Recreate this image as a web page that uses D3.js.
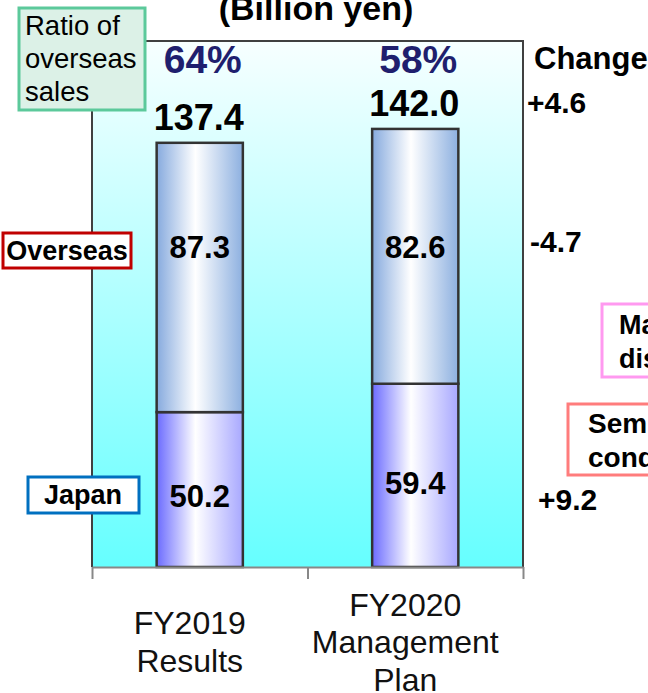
<!DOCTYPE html>
<html>
<head>
  <style>
  body { margin: 0; background: #fff; }
  svg { display: block; font-family: "Liberation Sans", Arial, sans-serif; }
  </style>
  <script src="https://cdn.jsdelivr.net/npm/d3@7"></script>
</head>
<body>
<script>
  // chart values
  var categories = [["FY2019", "Results"], ["FY2020", "Management", "Plan"]];
  var japan = [50.2, 59.4];
  var overseas = [87.3, 82.6];
  var totals = ["137.4", "142.0"];
  var ratios = ["64%", "58%"];
  var changes = ["+4.6", "-4.7", "+9.2"];

  var canvasWidth = 648;
  var canvasHeight = 693;
  var plot = {left: 92, right: 523, top: 41, bottom: 567};

  var svg = d3.select("body")
      .append("svg")
      .attr("width", canvasWidth)
      .attr("height", canvasHeight);

  var defs = svg.append("defs");

  var bg = defs.append("linearGradient")
      .attr("id", "bg").attr("x1", 0).attr("y1", 0).attr("x2", 0).attr("y2", 1);
  bg.append("stop").attr("offset", "0%").attr("stop-color", "#f7ffff");
  bg.append("stop").attr("offset", "100%").attr("stop-color", "#66ffff");

  function barGradient(id, left, right) {
    var g = defs.append("linearGradient")
        .attr("id", id).attr("x1", 0).attr("y1", 0).attr("x2", 1).attr("y2", 0);
    g.append("stop").attr("offset", "0%").attr("stop-color", left);
    g.append("stop").attr("offset", "45%").attr("stop-color", "#ffffff");
    g.append("stop").attr("offset", "100%").attr("stop-color", right);
  }
  barGradient("gOver", "#86aade", "#8db0e0");
  barGradient("gJapan", "#6b6bff", "#a8a8ff");

  var x = d3.scaleBand()
      .domain(d3.range(categories.length))
      .range([plot.left, plot.right])
      .paddingInner(0);

  var barWidth = x.bandwidth() * 0.4;

  var y = d3.scaleLinear()
      .domain([0, 170.5])
      .range([plot.bottom, plot.top]);

  // plot background
  svg.append("rect")
      .attr("x", plot.left)
      .attr("y", plot.top)
      .attr("width", plot.right - plot.left)
      .attr("height", plot.bottom - plot.top)
      .attr("fill", "url(#bg)");

  svg.append("path")
      .attr("d", "M" + plot.left + "," + plot.bottom + "V" + plot.top + "H" + plot.right + "V" + plot.bottom)
      .attr("fill", "none")
      .attr("stroke", "#404040")
      .attr("stroke-width", 2);

  // stacked bars
  var stacks = categories.map(function(d, i) {
    return [
      {key: "gJapan", y0: 0, y1: japan[i]},
      {key: "gOver", y0: japan[i], y1: japan[i] + overseas[i]}
    ];
  });

  svg.selectAll("g.bar")
      .data(stacks)
      .enter().append("g")
      .attr("class", "bar")
      .attr("transform", function(d, i) { return "translate(" + (x(i) + (x.bandwidth() - barWidth) / 2) + ",0)"; })
      .selectAll("rect")
      .data(function(d) { return d; })
      .enter().append("rect")
      .attr("x", 0)
      .attr("y", function(d) { return y(d.y1); })
      .attr("width", barWidth)
      .attr("height", function(d) { return y(d.y0) - y(d.y1); })
      .attr("fill", function(d) { return "url(#" + d.key + ")"; })
      .attr("stroke", "#333")
      .attr("stroke-width", 2.5);

  // x axis with ticks on band edges
  var xEdge = d3.scaleLinear().domain([0, categories.length]).range([plot.left, plot.right]);
  var axis = svg.append("g")
      .attr("transform", "translate(0," + plot.bottom + ")")
      .call(d3.axisBottom(xEdge).tickValues(d3.range(categories.length + 1)).tickFormat("").tickSize(12).tickSizeOuter(0));
  axis.selectAll("path, line").attr("stroke", "#888").attr("stroke-width", 2);

  // category labels
  categories.forEach(function(lines, i) {
    var cx = x(i) + x.bandwidth() / 2 - 10;
    var t = svg.append("text")
        .attr("text-anchor", "middle")
        .attr("font-size", 32)
        .attr("fill", "#111");
    var first = 653 - (lines.length - 1) * 37.5 / 2;
    lines.forEach(function(s, j) {
      t.append("tspan").attr("x", cx).attr("y", first + j * 37.5).text(s);
    });
  });

  // value labels
  var cxs = categories.map(function(d, i) { return x(i) + x.bandwidth() / 2; });

  svg.selectAll("text.total")
      .data(totals)
      .enter().append("text")
      .attr("x", function(d, i) { return cxs[i] - 1; })
      .attr("y", function(d, i) { return y(japan[i] + overseas[i]) - 13; })
      .attr("text-anchor", "middle")
      .attr("font-size", 36)
      .attr("font-weight", "bold")
      .text(function(d) { return d; });

  svg.selectAll("text.ratio")
      .data(ratios)
      .enter().append("text")
      .attr("x", function(d, i) { return cxs[i] + 3; })
      .attr("y", 73)
      .attr("text-anchor", "middle")
      .attr("font-size", 39)
      .attr("font-weight", "bold")
      .attr("fill", "#1f1f6e")
      .text(function(d) { return d; });

  svg.selectAll("text.over")
      .data(overseas)
      .enter().append("text")
      .attr("x", function(d, i) { return cxs[i]; })
      .attr("y", 247)
      .attr("dy", "0.36em")
      .attr("text-anchor", "middle")
      .attr("font-size", 31)
      .attr("font-weight", "bold")
      .text(function(d) { return d.toFixed(1); });

  svg.selectAll("text.jp")
      .data(japan)
      .enter().append("text")
      .attr("x", function(d, i) { return cxs[i]; })
      .attr("y", function(d) { return y(d * 0.46); })
      .attr("dy", "0.36em")
      .attr("text-anchor", "middle")
      .attr("font-size", 31)
      .attr("font-weight", "bold")
      .text(function(d) { return d.toFixed(1); });

  // title and change column
  svg.append("text")
      .attr("x", 316)
      .attr("y", 20)
      .attr("text-anchor", "middle")
      .attr("font-size", 34)
      .attr("font-weight", "bold")
      .text("(Billion yen)");

  svg.append("text")
      .attr("x", 534)
      .attr("y", 69)
      .attr("font-size", 31)
      .attr("font-weight", "bold")
      .text("Change");

  var changeY = [113, 252, 510];
  var changeX = [527, 530, 538];
  svg.selectAll("text.chg")
      .data(changes)
      .enter().append("text")
      .attr("x", function(d, i) { return changeX[i]; })
      .attr("y", function(d, i) { return changeY[i]; })
      .attr("font-size", 30)
      .attr("font-weight", "bold")
      .text(function(d) { return d; });

  // legend boxes
  function box(x0, y0, w, h, stroke, fill) {
    svg.append("rect")
        .attr("x", x0).attr("y", y0).attr("width", w).attr("height", h)
        .attr("fill", fill).attr("stroke", stroke).attr("stroke-width", 3);
  }
  function lines(x0, ys, arr, size, weight, anchor) {
    arr.forEach(function(s, j) {
      svg.append("text")
          .attr("x", x0).attr("y", ys[j])
          .attr("font-size", size)
          .attr("font-weight", weight)
          .attr("text-anchor", anchor)
          .text(s);
    });
  }

  box(19, 8, 126, 102, "#5cc99b", "#dcf1e7");
  lines(25, [35, 68, 101], ["Ratio of", "overseas", "sales"], 27.5, "normal", "start");

  box(3, 233, 128, 35, "#c00000", "#fff");
  lines(67, [260], ["Overseas"], 27, "bold", "middle");

  box(28, 477, 111, 36, "#0070c0", "#fff");
  lines(83, [504], ["Japan"], 27, "bold", "middle");

  box(602, 304, 80, 73, "#ff99f0", "#fff");
  lines(619, [334, 368], ["Manufacturing", "display"], 27, "bold", "start");

  box(568, 404, 110, 71, "#ff7c7c", "#fff");
  lines(588, [433, 467], ["Semi-", "conductor"], 28, "bold", "start");
</script>
</body>
</html>
